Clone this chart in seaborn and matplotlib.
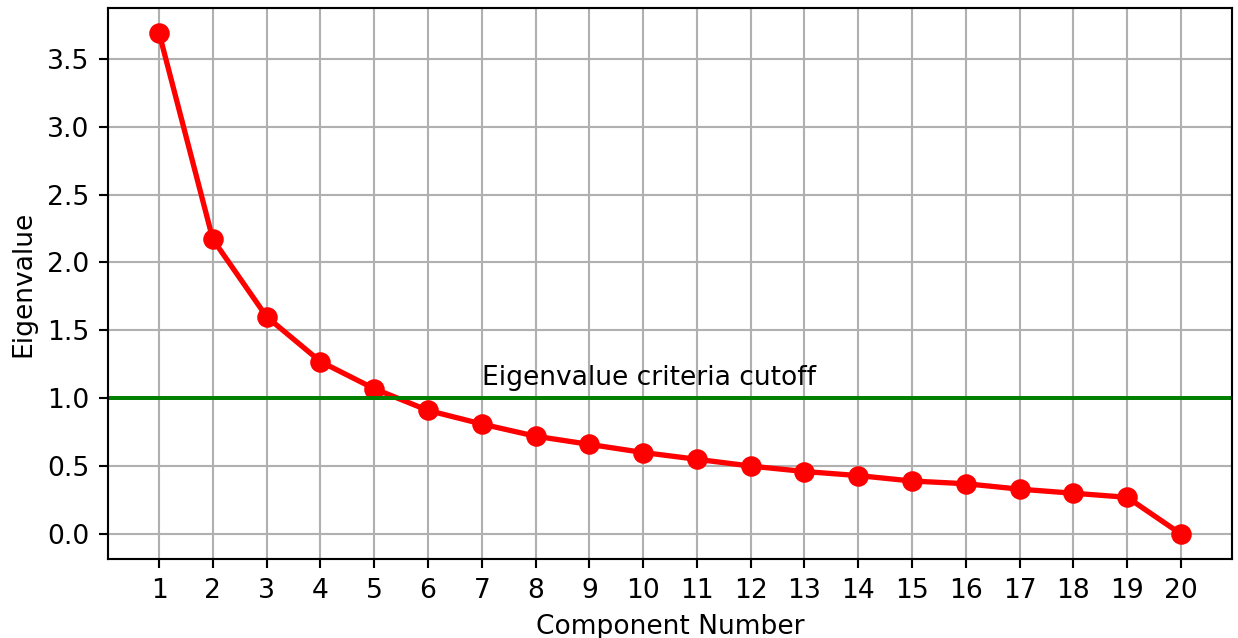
import numpy as np
import pandas as pd
import matplotlib
matplotlib.use('Agg')
import matplotlib.pyplot as plt
import seaborn as sns

components = list(range(1, 21))
eigenvalues = [3.69, 2.17, 1.60, 1.27, 1.07, 0.91, 0.81, 0.72, 0.66, 0.60,
               0.55, 0.50, 0.46, 0.43, 0.39, 0.37, 0.33, 0.30, 0.27, 0.0]
cutoff = 1.0
cutoff_label = 'Eigenvalue criteria cutoff'

df = pd.DataFrame({'component': components, 'eigenvalue': eigenvalues})

dpi = 191
fig = plt.figure(figsize=(1238 / dpi, 638 / dpi), dpi=dpi)
ax = fig.add_axes([108 / 1238, 1 - 559 / 638, (1232 - 108) / 1238, (559 - 8) / 638])
ax.grid(True, zorder=0)
ax.set_axisbelow(True)
sns.lineplot(ax=ax, data=df, x='component', y='eigenvalue', color='red',
             linewidth=2, marker='o', markersize=7, markeredgecolor='red')
ax.axhline(cutoff, color='green', linewidth=1.5)
ax.text(7, cutoff + 0.1, cutoff_label)

ax.set_xticks(components)
ax.set_xlabel('Component Number')
ax.set_ylabel('Eigenvalue')
fig.savefig('out.png', dpi=dpi)
